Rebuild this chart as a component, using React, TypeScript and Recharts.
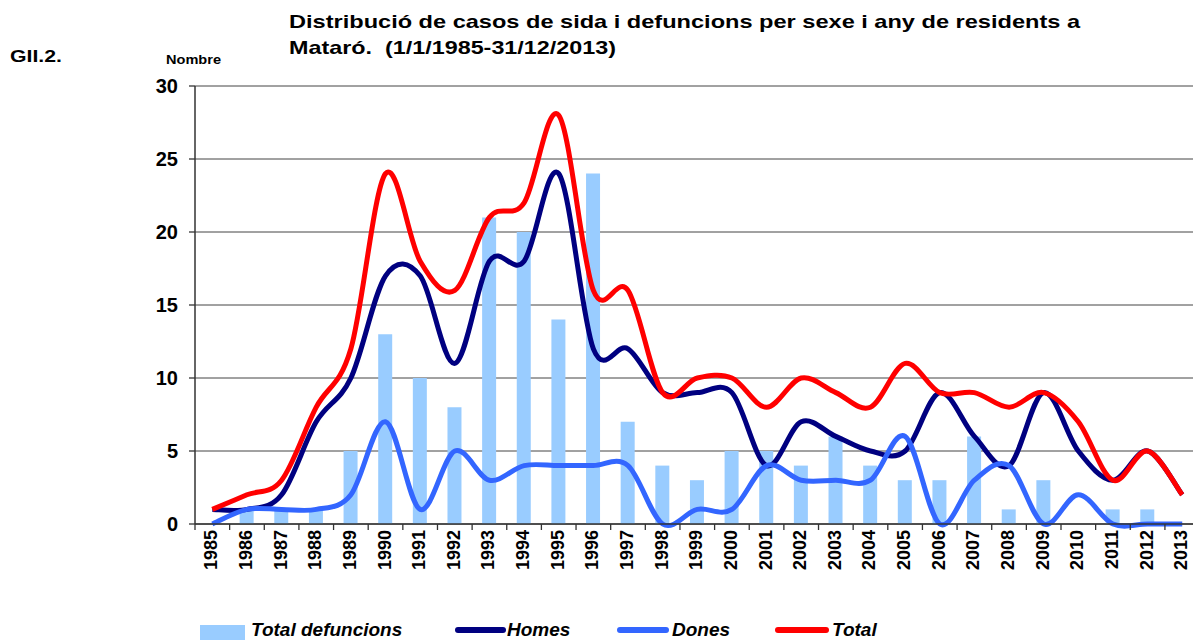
import React from 'react';
import { ComposedChart, Bar, Line, XAxis, YAxis, CartesianGrid } from 'recharts';

const years = ['1985','1986','1987','1988','1989','1990','1991','1992','1993','1994','1995','1996','1997','1998','1999','2000','2001','2002','2003','2004','2005','2006','2007','2008','2009','2010','2011','2012','2013'];
const totalDefuncions = [0,1,1,1,5,13,10,8,21,20,14,24,7,4,3,5,5,4,6,4,3,3,6,1,3,0,1,1,0];
const homes = [1,1,2,7,10,17,17,11,18,18,24,12,12,9,9,9,4,7,6,5,5,9,6,4,9,5,3,5,2];
const dones = [0,1,1,1,2,7,1,5,3,4,4,4,4,0,1,1,4,3,3,3,6,0,3,4,0,2,0,0,0];
const total = [1,2,3,8,12,24,18,16,21,22,28,16,16,9,10,10,8,10,9,8,11,9,9,8,9,7,3,5,2];
const yTicks = [0,5,10,15,20,25,30];

const titleLine1 = 'Distribució de casos de sida i defuncions per sexe i any de residents a';
const titleLine2 = 'Mataró.  (1/1/1985-31/12/2013)';
const figLabel = 'GII.2.';
const yLabel = 'Nombre';

const series = [
  { key: 'defuncions', name: 'Total defuncions', color: '#99CCFF', kind: 'bar' },
  { key: 'homes', name: 'Homes', color: '#000080', kind: 'line' },
  { key: 'dones', name: 'Dones', color: '#3366FF', kind: 'line' },
  { key: 'total', name: 'Total', color: '#FF0000', kind: 'line' },
];

const data = years.map((y, i) => ({
  year: y,
  defuncions: totalDefuncions[i],
  homes: homes[i],
  dones: dones[i],
  total: total[i],
}));

const FONT = '"Liberation Sans", Arial, Helvetica, sans-serif';

// Excel-like smoothed line (Catmull-Rom via cubic Bezier)
function excelSmooth(context: any) {
  let pts: number[][] = [];
  return {
    areaStart() {},
    areaEnd() {},
    lineStart() { pts = []; },
    point(x: number, y: number) { pts.push([+x, +y]); },
    lineEnd() {
      const n = pts.length;
      if (!n) return;
      context.moveTo(pts[0][0], pts[0][1]);
      for (let i = 0; i < n - 1; i++) {
        const p0 = pts[Math.max(0, i - 1)];
        const p1 = pts[i];
        const p2 = pts[i + 1];
        const p3 = pts[Math.min(n - 1, i + 2)];
        const c1x = p1[0] + (p2[0] - p0[0]) / 6;
        const c1y = p1[1] + (p2[1] - p0[1]) / 6;
        const c2x = p2[0] - (p3[0] - p1[0]) / 6;
        const c2y = p2[1] - (p3[1] - p1[1]) / 6;
        context.bezierCurveTo(c1x, c1y, c2x, c2y, p2[0], p2[1]);
      }
    },
  };
}

const CHART_W = 1215;
const CHART_H = 640;
const PLOT_LEFT = 195;
const PLOT_TOP = 86;
const PLOT_BOTTOM = 524;
const BAND = 34.64;
const PLOT_RIGHT = PLOT_LEFT + BAND * years.length;

const XTick = (props: any) => {
  const { x, y, payload } = props;
  const half = payload && payload.offset ? payload.offset : BAND / 2;
  return (
    <g>
      <line x1={x - half} x2={x - half} y1={y} y2={y + 6} stroke="#333" strokeWidth={1.3} />
      <text
        transform={`translate(${x + 5},${y + 6}) rotate(-90)`}
        textAnchor="end"
        fontFamily={FONT}
        fontWeight="bold"
        fontSize={18}
        fill="#000"
      >
        {payload.value}
      </text>
    </g>
  );
};

export default function App() {
  return (
    <div style={{ position: 'absolute', left: 0, top: 0, width: 1193, height: 640, overflow: 'hidden', background: '#fff' }}>
      <ComposedChart
        width={CHART_W}
        height={CHART_H}
        data={data}
        margin={{ top: PLOT_TOP, right: CHART_W - PLOT_RIGHT, left: 0, bottom: 0 }}
        barCategoryGap={0}
      >
        <CartesianGrid vertical={false} horizontal stroke="#444" strokeWidth={1} />
        <XAxis
          dataKey="year"
          interval={0}
          height={CHART_H - PLOT_BOTTOM}
          tickSize={0}
          tickMargin={0}
          tickLine={false}
          axisLine={{ stroke: '#333', strokeWidth: 1.5 }}
          tick={<XTick />}
        />
        <YAxis
          width={PLOT_LEFT}
          domain={[0, 30]}
          ticks={yTicks}
          interval={0}
          tickSize={6}
          tickMargin={11}
          tickLine={{ stroke: '#333', strokeWidth: 1.3 }}
          axisLine={{ stroke: '#333', strokeWidth: 1.5 }}
          tick={{ fontFamily: FONT, fontWeight: 'bold', fontSize: 20, fill: '#000' }}
        />
        <Bar dataKey="defuncions" name="Total defuncions" fill="#99CCFF" barSize={14} isAnimationActive={false} />
        <Line dataKey="homes" name="Homes" type={excelSmooth as any} stroke="#000080" strokeWidth={5} dot={false} activeDot={false} isAnimationActive={false} />
        <Line dataKey="dones" name="Dones" type={excelSmooth as any} stroke="#3366FF" strokeWidth={5} dot={false} activeDot={false} isAnimationActive={false} />
        <Line dataKey="total" name="Total" type={excelSmooth as any} stroke="#FF0000" strokeWidth={5} dot={false} activeDot={false} isAnimationActive={false} />
      </ComposedChart>

      <svg width={1193} height={640} style={{ position: 'absolute', left: 0, top: 0, pointerEvents: 'none' }}>
        <text x={289} y={28} fontFamily={FONT} fontWeight="bold" fontSize={19} fill="#000" textLength={791} lengthAdjust="spacingAndGlyphs">{titleLine1}</text>
        <text x={289} y={54} fontFamily={FONT} fontWeight="bold" fontSize={19} fill="#000" textLength={327} lengthAdjust="spacingAndGlyphs" style={{ whiteSpace: 'pre' }}>{titleLine2}</text>
        <text x={10} y={62} fontFamily={FONT} fontWeight="bold" fontSize={16} fill="#000" textLength={52} lengthAdjust="spacingAndGlyphs">{figLabel}</text>
        <text x={166} y={64} fontFamily={FONT} fontWeight="bold" fontSize={12} fill="#000" textLength={55} lengthAdjust="spacingAndGlyphs">{yLabel}</text>

        {/* legend */}
        <rect x={200} y={625} width={45} height={15} fill={series[0].color} />
        <text x={251} y={636} fontFamily={FONT} fontWeight="bold" fontStyle="italic" fontSize={19} fill="#000">{series[0].name}</text>
        <line x1={458} x2={503} y1={630} y2={630} stroke={series[1].color} strokeWidth={6} strokeLinecap="round" />
        <text x={507} y={636} fontFamily={FONT} fontWeight="bold" fontStyle="italic" fontSize={19} fill="#000">{series[1].name}</text>
        <line x1={620} x2={666} y1={630} y2={630} stroke={series[2].color} strokeWidth={6} strokeLinecap="round" />
        <text x={672} y={636} fontFamily={FONT} fontWeight="bold" fontStyle="italic" fontSize={19} fill="#000">{series[2].name}</text>
        <line x1={778} x2={826} y1={630} y2={630} stroke={series[3].color} strokeWidth={6} strokeLinecap="round" />
        <text x={832} y={636} fontFamily={FONT} fontWeight="bold" fontStyle="italic" fontSize={19} fill="#000">{series[3].name}</text>
      </svg>
    </div>
  );
}
